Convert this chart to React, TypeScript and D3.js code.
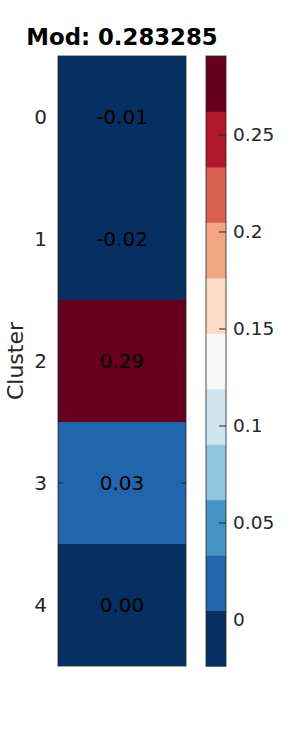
import React from "react";
import * as d3 from "d3";

const clusters = ["0", "1", "2", "3", "4"];
const values = [-0.012, -0.0237, 0.2907, 0.031, 0.002];
const colorTicks = [0, 0.05, 0.1, 0.15, 0.2, 0.25];
const colorTickLabels = ["0", "0.05", "0.1", "0.15", "0.2", "0.25"];
const palette = d3.schemeRdBu[11].slice().reverse();
const title = "Mod: 0.283285";
const yLabel = "Cluster";

const locale = d3.formatLocale({ decimal: ".", thousands: ",", grouping: [3], currency: ["", ""], minus: "-" });
const fmt = locale.format(".2f");

export default function App() {
  const W = 300, H = 750;
  const left = 58, right = 186, top = 56, bottom = 666;
  const cbLeft = 206, cbRight = 226;
  const font = "DejaVu Sans, sans-serif";
  const axisColor = "#262626";

  const [vmin, vmax] = d3.extent(values) as [number, number];
  const color = d3.scaleQuantize<string>().domain([vmin, vmax]).range(palette);
  const y = d3.scaleBand<string>().domain(clusters).range([top, bottom]);
  const cy = d3.scaleLinear().domain([vmin, vmax]).range([bottom, top]);
  const binEdges = palette.map((_, i) => vmin + ((vmax - vmin) * i) / palette.length);
  const binH = (bottom - top) / palette.length;

  return (
    <svg width={W} height={H} style={{ position: "absolute", left: 0, top: 0 }} fontFamily={font}>
      <rect x={0} y={0} width={W} height={H} fill="#fff" />
      <text x={(left + right) / 2} y={45} textAnchor="middle" fontWeight="bold" fontSize={22.8} fill="#000">
        {title}
      </text>
      {clusters.map((c, i) => (
        <g key={c}>
          <rect x={left} y={y(c)!} width={right - left} height={y.bandwidth()} fill={color(values[i])} />
          <text
            x={(left + right) / 2}
            y={y(c)! + y.bandwidth() / 2}
            dy="0.35em"
            textAnchor="middle"
            fontSize={20}
            fill="#000"
          >
            {fmt(values[i])}
          </text>
          <line x1={left} x2={left + 5} y1={y(c)! + y.bandwidth() / 2} y2={y(c)! + y.bandwidth() / 2} stroke={axisColor} strokeWidth={1} />
          <line x1={right - 5} x2={right} y1={y(c)! + y.bandwidth() / 2} y2={y(c)! + y.bandwidth() / 2} stroke={axisColor} strokeWidth={1} />
          <text x={47} y={y(c)! + y.bandwidth() / 2} dy="0.35em" textAnchor="end" fontSize={20} fill={axisColor}>
            {c}
          </text>
        </g>
      ))}
      <rect x={left} y={top} width={right - left} height={bottom - top} fill="none" stroke={axisColor} strokeWidth={0.8} />
      <text
        transform={`translate(23,${(top + bottom) / 2}) rotate(-90)`}
        textAnchor="middle"
        fontSize={22}
        fill={axisColor}
      >
        {yLabel}
      </text>
      {binEdges.map((v, i) => (
        <rect key={i} x={cbLeft} y={cy(v) - binH} width={cbRight - cbLeft} height={binH + 0.5} fill={palette[i]} />
      ))}
      <rect x={cbLeft} y={top} width={cbRight - cbLeft} height={bottom - top} fill="none" stroke={axisColor} strokeWidth={0.8} />
      {colorTicks.map((t, i) => (
        <g key={t}>
          <line x1={cbRight - 7} x2={cbRight} y1={cy(t)} y2={cy(t)} stroke={axisColor} strokeWidth={1} />
          <text x={233} y={cy(t)} dy="0.35em" fontSize={18.5} fill={axisColor}>
            {colorTickLabels[i]}
          </text>
        </g>
      ))}
    </svg>
  );
}
